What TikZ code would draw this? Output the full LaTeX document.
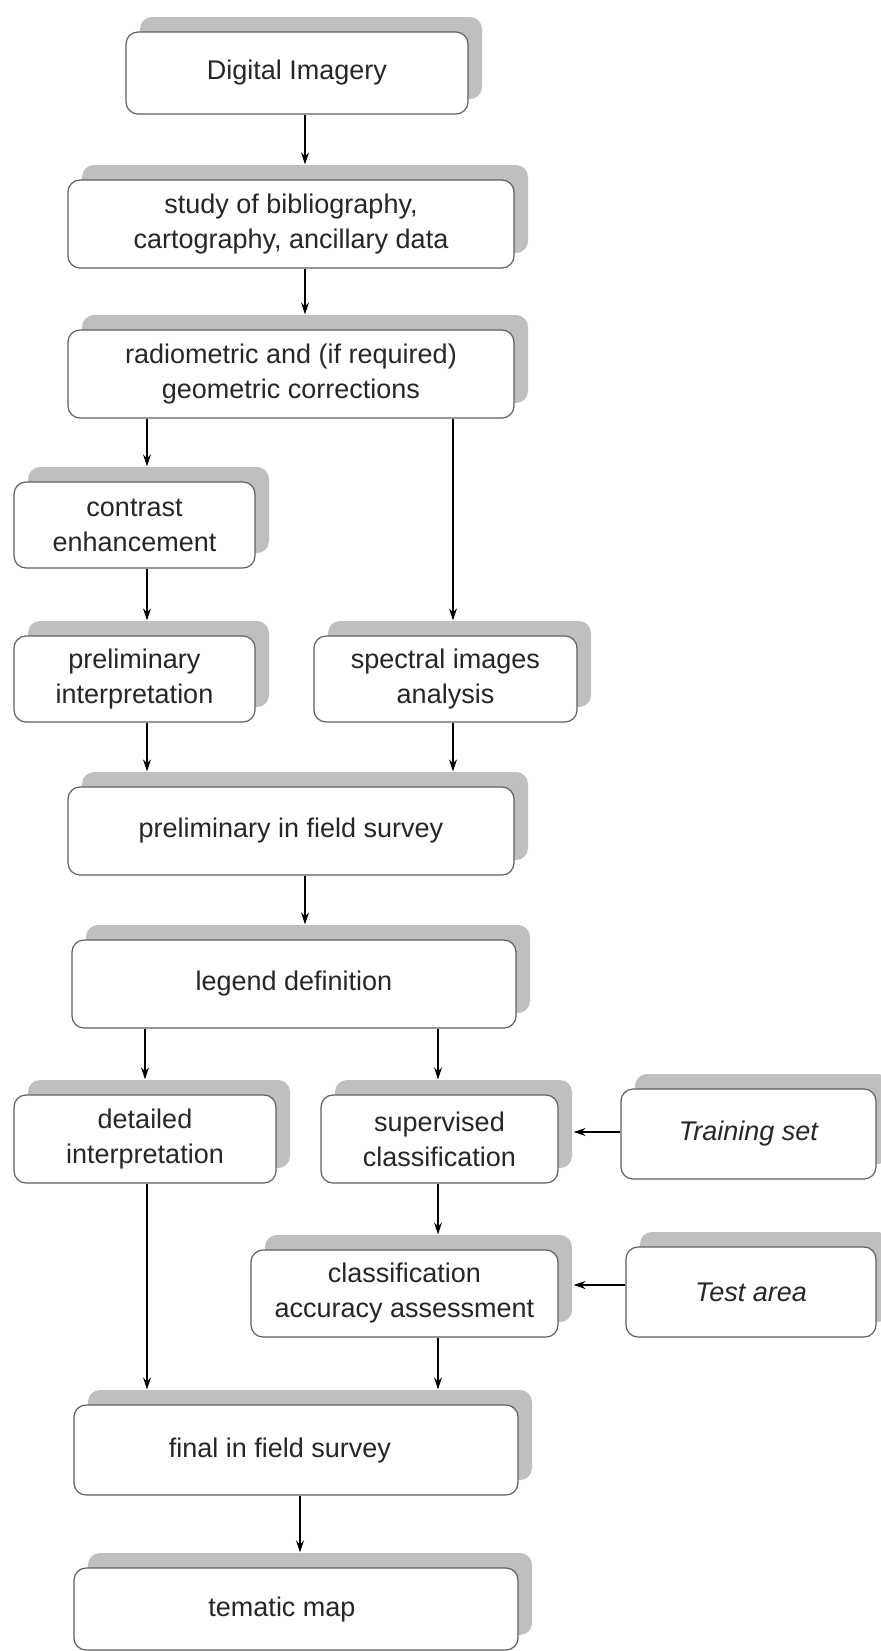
\documentclass[tikz,border=0pt]{standalone}
\usepackage{fontspec}
\setmainfont{Liberation Sans}
\usetikzlibrary{arrows.meta,shadows}
\definecolor{shadowgray}{RGB}{191,191,191}
\definecolor{edgegray}{RGB}{95,95,95}

\begin{document}
\begin{tikzpicture}[x=0.5pt, y=-0.5pt,
  stepbox/.style={rectangle, rounded corners=6pt,
    draw=edgegray, line width=0.6pt, fill=white, text=black!85,
    copy shadow={shadow xshift=7pt, shadow yshift=7.5pt, fill=shadowgray, draw=none},
    minimum height=44pt, inner sep=2pt,
    font=\fontsize{13.5}{17.5}\selectfont, align=center},
  databox/.style={stepbox, font=\fontsize{13.5}{17.5}\selectfont\itshape},
  arr/.style={-{Stealth[length=6pt, width=4pt]}, line width=0.6pt, shorten >=7.5pt}
]
\path[use as bounding box, fill=white] (0,0) rectangle (880,1651);
\node[stepbox, minimum width=171pt, minimum height=41pt] (di) at (297,73) {Digital Imagery};
\node[stepbox, minimum width=223pt] (bib) at (291,224) {study of bibliography,\\cartography, ancillary data};
\node[stepbox, minimum width=223pt] (corr) at (291,374) {radiometric and (if required)\\geometric corrections};
\node[stepbox, minimum width=120.5pt, minimum height=43pt] (contr) at (134.5,525) {contrast\\enhancement};
\node[stepbox, minimum width=120.5pt, minimum height=43pt] (prel) at (134.5,679) {preliminary\\interpretation};
\node[stepbox, minimum width=131.5pt, minimum height=43pt] (spec) at (445.5,679) {spectral images\\analysis};
\node[stepbox, minimum width=223pt] (pfield) at (291,831) {preliminary in field survey};
\node[stepbox, minimum width=222pt] (legend) at (294,984) {legend definition};
\node[stepbox, minimum width=131pt] (detail) at (145,1139) {detailed\\interpretation};
\node[stepbox, minimum width=118.5pt] (superv) at (439.5,1139) {supervised\\classification};
\node[databox, minimum width=127.5pt, minimum height=45pt] (train) at (748.5,1134) {Training set};
\node[stepbox, minimum width=153.5pt, minimum height=43.5pt] (accur) at (404.5,1293.5) {classification\\accuracy assessment};
\node[databox, minimum width=125pt, minimum height=45pt] (test) at (751,1292) {Test area};
\node[stepbox, minimum width=222pt, minimum height=45pt] (ffield) at (296,1450) {final in field survey\hspace*{16pt}};
\node[stepbox, minimum width=222pt, minimum height=41pt] (tmap) at (296,1609) {tematic map\hspace*{14pt}};
\draw[arr] ([xshift=4pt]di.south) -- ([xshift=4pt]di.south |- bib.north);
\draw[arr] ([xshift=7pt]bib.south) -- ([xshift=7pt]bib.south |- corr.north);
\draw[arr] ([xshift=-72pt]corr.south) -- ([xshift=-72pt]corr.south |- contr.north);
\draw[arr] ([xshift=81pt]corr.south) -- ([xshift=81pt]corr.south |- spec.north);
\draw[arr] ([xshift=6.25pt]contr.south) -- ([xshift=6.25pt]contr.south |- prel.north);
\draw[arr] ([xshift=6.25pt]prel.south) -- ([xshift=6.25pt]prel.south |- pfield.north);
\draw[arr] ([xshift=3.75pt]spec.south) -- ([xshift=3.75pt]spec.south |- pfield.north);
\draw[arr] ([xshift=7pt]pfield.south) -- ([xshift=7pt]pfield.south |- legend.north);
\draw[arr] ([xshift=-74.5pt]legend.south) -- ([xshift=-74.5pt]legend.south |- detail.north);
\draw[arr] ([xshift=72pt]legend.south) -- ([xshift=72pt]legend.south |- superv.north);
\draw[arr] ([xshift=-0.75pt]superv.south) -- ([xshift=-0.75pt]superv.south |- accur.north);
\draw[arr] ([xshift=1pt]detail.south) -- ([xshift=1pt]detail.south |- ffield.north);
\draw[arr] ([xshift=16.75pt]accur.south) -- ([xshift=16.75pt]accur.south |- ffield.north);
\draw[arr] ([xshift=2pt]ffield.south) -- ([xshift=2pt]ffield.south |- tmap.north);
\draw[arr] ([yshift=1pt]train.west) -- ([yshift=1pt]train.west -| superv.east);
\draw[arr] ([yshift=3.5pt]test.west) -- ([yshift=3.5pt]test.west -| accur.east);
\end{tikzpicture}
\end{document}
